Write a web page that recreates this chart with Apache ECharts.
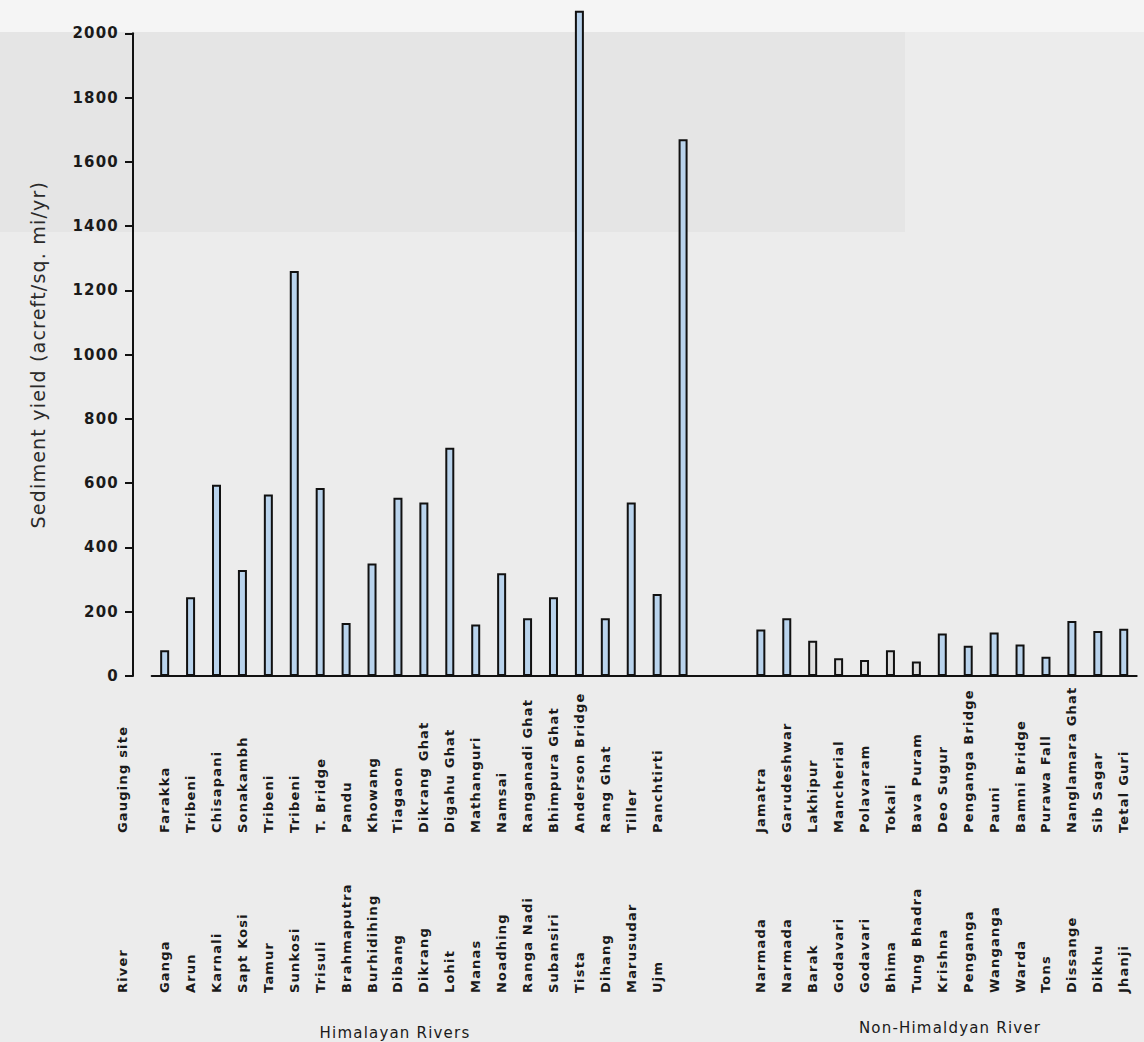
<!DOCTYPE html>
<html>
<head>
<meta charset="utf-8">
<script src="https://cdn.jsdelivr.net/npm/echarts@6/dist/echarts.min.js"></script>
<style>
  html, body { margin: 0; padding: 0; background: #ececec; }
  #chart { width: 1144px; height: 1042px; }
  #chart svg text { letter-spacing: 1.2px; }
</style>
</head>
<body>
<div id="chart"></div>
<script>
// Himalayan gauging stations (site, river) and sediment yield, acre-ft / sq. mi / yr
const himalayanSites = ['Farakka', 'Tribeni', 'Chisapani', 'Sonakambh', 'Tribeni', 'Tribeni', 'T. Bridge',
  'Pandu', 'Khowang', 'Tiagaon', 'Dikrang Ghat', 'Digahu Ghat', 'Mathanguri', 'Namsai', 'Ranganadi Ghat',
  'Bhimpura Ghat', 'Anderson Bridge', 'Rang Ghat', 'Tiller', 'Panchtirti', ''];
const himalayanRivers = ['Ganga', 'Arun', 'Karnali', 'Sapt Kosi', 'Tamur', 'Sunkosi', 'Trisuli',
  'Brahmaputra', 'Burhidihing', 'Dibang', 'Dikrang', 'Lohit', 'Manas', 'Noadhing', 'Ranga Nadi',
  'Subansiri', 'Tista', 'Dihang', 'Marusudar', 'Ujm', ''];
const himalayanYield = [80, 245, 595, 330, 565, 1260, 585, 165, 350, 555, 540, 710, 160, 320, 180,
  245, 2070, 180, 540, 255, 1670];

// Non-Himalayan gauging stations
const otherSites = ['Jamatra', 'Garudeshwar', 'Lakhipur', 'Mancherial', 'Polavaram', 'Tokali', 'Bava Puram',
  'Deo Sugur', 'Penganga Bridge', 'Pauni', 'Bamni Bridge', 'Purawa Fall', 'Nanglamara Ghat', 'Sib Sagar', 'Tetal Guri'];
const otherRivers = ['Narmada', 'Narmada', 'Barak', 'Godavari', 'Godavari', 'Bhima', 'Tung Bhadra',
  'Krishna', 'Penganga', 'Wanganga', 'Warda', 'Tons', 'Dissange', 'Dikhu', 'Jhanji'];
const otherYield = [145, 180, 110, 55, 50, 80, 45, 132, 94, 135, 98, 60, 171, 140, 147];

// Two empty slots separate the two groups of rivers
const gapSlots = ['', ''];
const yAxisRange = { min: 0, max: 2000, interval: 200 };

const sites = [...himalayanSites, ...gapSlots, ...otherSites];
const rivers = [...himalayanRivers, ...gapSlots, ...otherRivers];
const values = [...himalayanYield, ...gapSlots.map(() => '-'), ...otherYield];

// Southern-peninsula stations printed with an uncoloured bar
const paleStart = himalayanSites.length + gapSlots.length + 2;
const paleEnd = paleStart + 4;

const FONT = 'DejaVu Sans';
const INK = '#1a1a1a';

const chart = echarts.init(document.getElementById('chart'), null, { renderer: 'svg' });

const labelStyle = { fontFamily: FONT, fontSize: 13, fontWeight: 'bold', color: INK };

chart.setOption({
  backgroundColor: '#ececec',
  animation: false,
  grid: { left: 151.7, right: 7.3, top: 33.3, bottom: 366 },
  graphic: [
    { type: 'rect', z: -10, silent: true, shape: { x: 0, y: 0, width: 1144, height: 32 }, style: { fill: '#f5f5f5' } },
    { type: 'rect', z: -10, silent: true, shape: { x: 0, y: 32, width: 905, height: 200 }, style: { fill: '#e5e5e5' } },
    {
      type: 'text', x: 122, y: 833, rotation: Math.PI / 2,
      style: { text: 'Gauging site', font: 'bold 13px "DejaVu Sans"', fill: INK, align: 'left', verticalAlign: 'middle' }
    },
    {
      type: 'text', x: 122, y: 993, rotation: Math.PI / 2,
      style: { text: 'River', font: 'bold 13px "DejaVu Sans"', fill: INK, align: 'left', verticalAlign: 'middle' }
    },
    {
      type: 'text', x: 395, y: 1033,
      style: { text: 'Himalayan Rivers', font: '15px "DejaVu Sans"', fill: INK, align: 'center', verticalAlign: 'middle' }
    },
    {
      type: 'text', x: 950, y: 1028,
      style: { text: 'Non-Himaldyan River', font: '15px "DejaVu Sans"', fill: INK, align: 'center', verticalAlign: 'middle' }
    }
  ],
  xAxis: [
    {
      type: 'category', position: 'bottom', data: sites,
      axisLine: { show: true, lineStyle: { color: '#111', width: 2 } },
      axisTick: { show: false },
      axisLabel: Object.assign({ interval: 0, rotate: 90, align: 'left', verticalAlign: 'middle', margin: 157 }, labelStyle),
      splitLine: { show: false }
    },
    {
      type: 'category', position: 'bottom', data: rivers,
      axisLine: { show: false },
      axisTick: { show: false },
      axisLabel: Object.assign({ interval: 0, rotate: 90, align: 'left', verticalAlign: 'middle', margin: 317 }, labelStyle),
      splitLine: { show: false }
    }
  ],
  yAxis: {
    type: 'value', position: 'left', offset: 18.7,
    min: yAxisRange.min, max: yAxisRange.max, interval: yAxisRange.interval,
    name: 'Sediment yield (acreft/sq. mi/yr)',
    nameLocation: 'middle', nameGap: 86,
    nameTextStyle: { fontFamily: FONT, fontSize: 19, color: '#2a2a2a' },
    axisLine: { show: true, lineStyle: { color: '#111', width: 2 } },
    axisTick: { show: true, inside: false, length: 8, lineStyle: { color: '#111', width: 2 } },
    axisLabel: {
      margin: 14, fontFamily: FONT, fontSize: 15, fontWeight: 'bold', color: INK,
      formatter: (v) => String(v)
    },
    splitLine: { show: false }
  },
  series: [{
    type: 'bar',
    xAxisIndex: 0,
    data: values,
    barWidth: 9,
    clip: false,
    itemStyle: {
      color: (p) => (p.dataIndex >= paleStart && p.dataIndex <= paleEnd) ? '#dedede' : '#b9d3ec',
      borderColor: '#111',
      borderWidth: 2
    }
  }]
});
</script>
</body>
</html>
